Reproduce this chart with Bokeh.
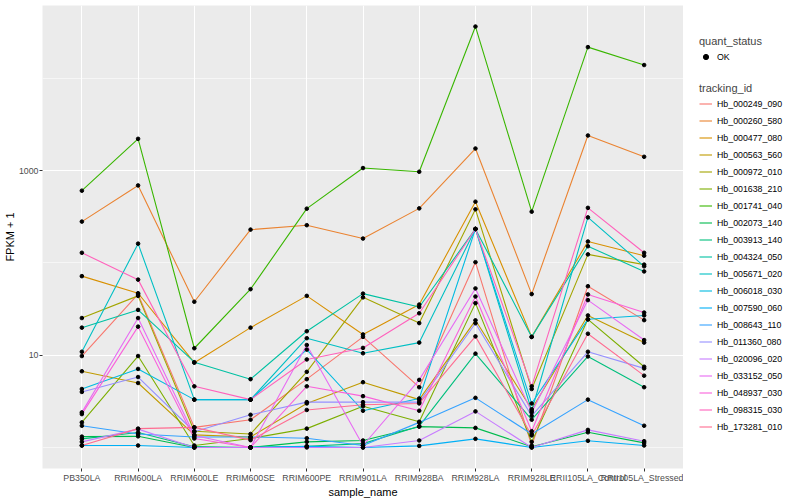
import numpy as np
from bokeh.plotting import figure
from bokeh.layouts import row
from bokeh.models import (FactorRange, Range1d, FixedTicker, NumeralTickFormatter,
                          Legend, LegendItem)
from bokeh.embed import file_html
from bokeh.resources import INLINE

samples = ["PB350LA", "RRIM600LA", "RRIM600LE", "RRIM600SE", "RRIM600PE",
           "RRIM901LA", "RRIM928BA", "RRIM928LA", "RRIM928LE",
           "RRII105LA_Control", "RRII105LA_Stressed"]

tracking_ids = ["Hb_000249_090", "Hb_000260_580", "Hb_000477_080", "Hb_000563_560",
                "Hb_000972_010", "Hb_001638_210", "Hb_001741_040", "Hb_002073_140",
                "Hb_003913_140", "Hb_004324_050", "Hb_005671_020", "Hb_006018_030",
                "Hb_007590_060", "Hb_008643_110", "Hb_011360_080", "Hb_020096_020",
                "Hb_033152_050", "Hb_048937_030", "Hb_098315_030", "Hb_173281_010"]

# FPKM + 1 per sample (order of `samples`)
hb_000249_090 = [9.8, 46, 1.65, 2.0, 5.5, 15.8, 4.5, 102, 1.05, 56, 24]
hb_000260_580 = [281, 693, 38, 230, 257, 184, 391, 1742, 46, 2410, 1417]
hb_000477_080 = [72, 47, 8.3, 19.9, 44, 16.8, 35.4, 462, 15.8, 171, 120]
hb_000563_560 = [6.7, 5.0, 1.37, 1.3, 3.0, 5.1, 3.3, 23.9, 2.6, 27, 13.7]
hb_000972_010 = [25.3, 44, 1.5, 1.4, 6.6, 42.4, 22.3, 382, 4.3, 124, 96]
hb_001638_210 = [1.87, 9.8, 1.05, 1.25, 1.6, 2.8, 1.9, 36.7, 1.15, 24.5, 7.5]
hb_001741_040 = [608, 2218, 11.9, 52, 388, 1070, 975, 36600, 360, 21900, 14000]
hb_002073_140 = [1.31, 1.32, 1.0, 1.0, 1.15, 1.19, 1.68, 1.63, 1.02, 1.46, 1.12]
hb_003913_140 = [1.24, 1.45, 1.02, 1.0, 1.03, 1.1, 1.7, 10.4, 2.0, 9.7, 4.5]
hb_004324_050 = [19.9, 31, 8.4, 5.5, 18.2, 46.5, 33.3, 234, 15.8, 152, 81]
hb_005671_020 = [10.9, 162, 3.3, 3.3, 15.3, 10.5, 13.7, 234, 2.5, 312, 92]
hb_006018_030 = [4.3, 7.1, 3.3, 3.3, 11.5, 2.5, 3.4, 234, 3.0, 24.5, 27]
hb_007590_060 = [1.05, 1.05, 1.0, 1.0, 1.03, 1.0, 1.04, 1.24, 1.0, 1.18, 1.05]
hb_008643_110 = [1.72, 1.4, 1.3, 1.3, 1.26, 1.05, 1.87, 3.45, 1.4, 3.3, 1.72]
hb_011360_080 = [4.0, 5.8, 1.48, 2.26, 3.1, 3.1, 3.1, 22.2, 2.2, 10.9, 7.2]
hb_020096_020 = [1.15, 1.58, 1.0, 1.0, 1.0, 1.0, 1.19, 2.46, 1.0, 1.55, 1.17]
hb_033152_050 = [2.4, 25.3, 1.35, 1.0, 12.9, 1.05, 5.4, 53, 2.4, 39.6, 14.6]
hb_048937_030 = [2.3, 20.4, 1.25, 1.0, 4.6, 3.6, 2.5, 43.3, 1.5, 45.6, 29]
hb_098315_030 = [129, 66, 4.6, 3.3, 9.0, 12.0, 28.5, 234, 4.6, 396, 129]
hb_173281_010 = [1.05, 1.6, 1.65, 1.2, 2.55, 2.9, 3.0, 16, 1.35, 17.1, 6.0]

series = [hb_000249_090, hb_000260_580, hb_000477_080, hb_000563_560, hb_000972_010,
          hb_001638_210, hb_001741_040, hb_002073_140, hb_003913_140, hb_004324_050,
          hb_005671_020, hb_006018_030, hb_007590_060, hb_008643_110, hb_011360_080,
          hb_020096_020, hb_033152_050, hb_048937_030, hb_098315_030, hb_173281_010]

colors = ["#F8766D", "#EA8331", "#D89000", "#C09B00", "#A3A500", "#7CAE00", "#39B600",
          "#00BB4E", "#00BF7D", "#00C1A3", "#00BFC4", "#00BAE0", "#00B0F6", "#35A2FF",
          "#9590FF", "#C77CFF", "#E76BF3", "#FA62DB", "#FF62BC", "#FF6C91"]

FONT = "Liberation Sans"
H = 500
W_MAIN = 683
W_LEG = 117

all_vals = np.concatenate([np.asarray(s, dtype=float) for s in series])
lo, hi = np.log10(all_vals.min()), np.log10(all_vals.max())
pad = 0.05 * (hi - lo)

p = figure(width=W_MAIN, height=H,
           x_range=FactorRange(factors=samples, range_padding=0.2, range_padding_units="absolute"),
           y_range=Range1d(10 ** (lo - pad), 10 ** (hi + pad)),
           y_axis_type="log", output_backend="svg", toolbar_location=None,
           min_border_top=5, min_border_right=0, min_border_left=0, min_border_bottom=0,
           background_fill_color="#EBEBEB", border_fill_color="white", outline_line_color=None)

for vals, col in zip(series, colors):
    p.line(samples, vals, line_color=col, line_width=1.1)

xs = [s for _ in series for s in samples]
ys = [v for vals in series for v in vals]
p.scatter(xs, ys, size=3.6, color="black")

ticker = FixedTicker(ticks=[10, 1000, 100000], minor_ticks=[1, 100, 10000])
p.yaxis.ticker = ticker
p.ygrid.ticker = ticker
p.yaxis.formatter = NumeralTickFormatter(format="0")

for ax in (p.xaxis, p.yaxis):
    ax.axis_line_color = None
    ax.major_tick_line_color = "#333333"
    ax.major_tick_in = 0
    ax.major_tick_out = 3
    ax.minor_tick_line_color = None
    ax.major_label_text_font = FONT
    ax.major_label_text_font_size = "8.8px"
    ax.major_label_text_color = "#4D4D4D"
    ax.major_label_standoff = 1
    ax.axis_label_text_font = FONT
    ax.axis_label_text_font_size = "11px"
    ax.axis_label_text_font_style = "normal"
    ax.axis_label_text_color = "black"
    ax.axis_label_standoff = 0
p.yaxis.major_label_standoff = 0
p.xaxis.axis_label = "sample_name"
p.yaxis.axis_label = "FPKM + 1"

p.xgrid.grid_line_color = "white"
p.xgrid.grid_line_width = 1.1
p.ygrid.grid_line_color = "white"
p.ygrid.grid_line_width = 1.1
p.ygrid.minor_grid_line_color = "white"
p.ygrid.minor_grid_line_width = 0.55

# legend panel: its own figure; key renderers hold no drawable data (NaN), only styles
lg_fig = figure(width=W_LEG, height=H, x_range=Range1d(0, 1), y_range=Range1d(0, 1),
                output_backend="svg", toolbar_location=None,
                x_axis_location=None, y_axis_location=None, min_border=0,
                background_fill_color="white", border_fill_color="white",
                outline_line_color=None)
lg_fig.grid.visible = False

NAN = [float("nan")]
key_items = []
for tid, col in zip(tracking_ids, colors):
    r = lg_fig.line(x=NAN, y=NAN, line_color=col, line_width=1.1)
    key_items.append(LegendItem(label=tid, renderers=[r]))
ok_r = lg_fig.scatter(x=NAN, y=NAN, size=3.6, color="black")


def make_legend(title, items, loc):
    lg = Legend(title=title, items=items, location=loc)
    lg.border_line_color = None
    lg.background_fill_alpha = 0
    lg.padding = 0
    lg.margin = 0
    lg.spacing = 0
    lg.glyph_width = 13
    lg.glyph_height = 17
    lg.label_height = 17
    lg.label_standoff = 5
    lg.label_text_font = FONT
    lg.label_text_font_size = "8.8px"
    lg.label_text_color = "black"
    lg.title_text_font = FONT
    lg.title_text_font_size = "11px"
    lg.title_text_font_style = "normal"
    lg.title_standoff = 1
    return lg


lg_fig.add_layout(make_legend("quant_status", [LegendItem(label="OK", renderers=[ok_r])], (16, 403)), "center")
lg_fig.add_layout(make_legend("tracking_id", key_items, (16, 33)), "center")

page = row(p, lg_fig, spacing=0)
open("out.html", "w").write(file_html(page, INLINE))
